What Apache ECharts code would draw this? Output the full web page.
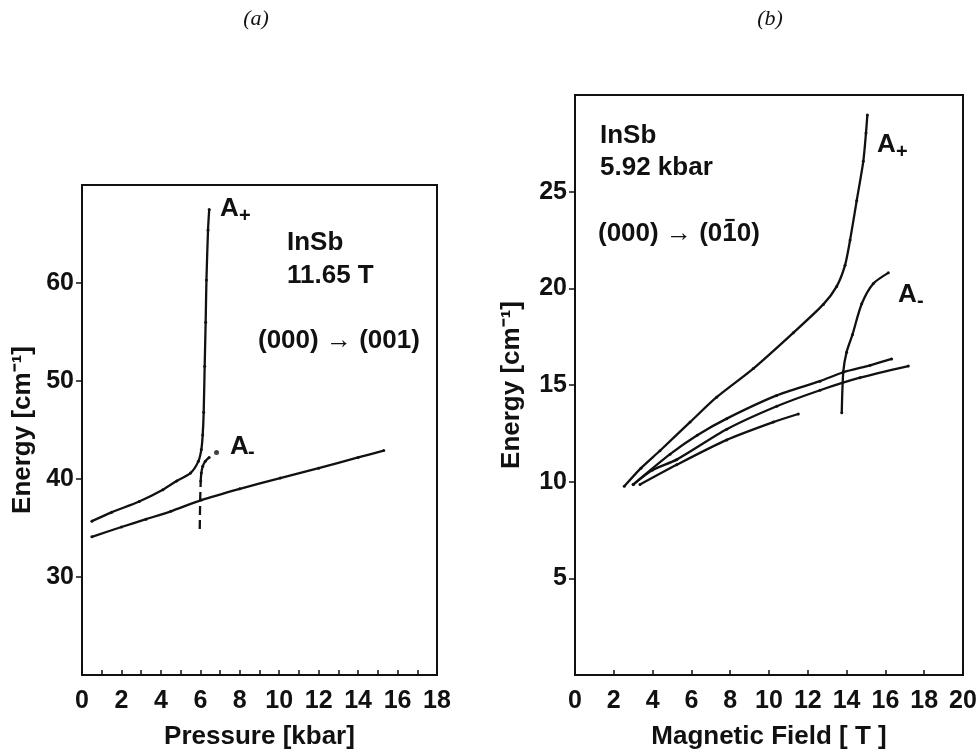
<!DOCTYPE html>
<html><head><meta charset="utf-8">
<script src="https://cdn.jsdelivr.net/npm/echarts@6/dist/echarts.min.js"></script>
<style>html,body{margin:0;padding:0;background:#fff}#c{width:980px;height:752px}</style>
</head><body><div id="c"></div>
<script>
// ---------- tick values ----------
const pressureTicks  = [0,1,2,3,4,5,6,7,8,9,10,11,12,13,14,15,16,17,18];
const pressureLabels = [0,2,4,6,8,10,12,14,16,18];
const energyTicksA   = [30,40,50,60];
const fieldTicks     = [0,2,4,6,8,10,12,14,16,18,20];
const fieldLabels    = [0,2,4,6,8,10,12,14,16,18,20];
const energyTicksB   = [5,10,15,20,25];

// ---------- panel (a): energy vs pressure at 11.65 T ----------
const aPlusA   = [[0.5,35.7],[1.5,36.6],[2.9,37.7],[4.1,38.9],[4.8,39.8],[5.5,40.6],[5.9,41.8],[6.05,43.0],[6.12,44.5],[6.17,46.8],[6.22,51.5],[6.27,56.0],[6.31,60.3],[6.39,65.4],[6.45,67.5]];
const lowerA   = [[0.5,34.1],[2.0,35.1],[3.25,35.9],[4.5,36.7],[6.05,37.85],[8.0,39.0],[10.05,40.1],[12.0,41.1],[14.0,42.2],[15.3,42.9]];
const aMinusDashA = [[5.97,34.9],[5.99,37.8],[6.02,39.8]];
const aMinusA  = [[6.02,39.8],[6.05,40.6],[6.12,41.3],[6.25,41.8],[6.45,42.2]];
const aMinusDotA = [[6.82,42.7]];

// ---------- panel (b): energy vs magnetic field at 5.92 kbar ----------
const aPlusB  = [[2.54,9.76],[3.4,10.7],[4.38,11.6],[5.93,13.08],[7.30,14.37],[9.19,15.85],[11.25,17.7],[12.80,19.17],[13.49,20.1],[13.92,21.2],[14.18,22.5],[14.52,24.53],[14.86,26.57],[15.0,28.04],[15.07,28.97]];
const mid1B   = [[3.0,9.85],[4.9,11.42],[6.3,12.4],[7.82,13.26],[10.4,14.46],[12.63,15.2],[13.83,15.66],[15.21,16.02],[16.32,16.35]];
const mid2B   = [[3.0,9.85],[4.0,10.6],[5.24,11.14],[7.82,12.71],[10.4,13.9],[12.63,14.73],[14.69,15.38],[17.18,15.98]];
const shortB  = [[3.35,9.85],[5.24,10.87],[7.82,12.16],[10.22,13.08],[11.51,13.5]];
const aMinusB = [[13.75,13.56],[13.83,15.7],[14.0,16.7],[14.3,17.6],[14.78,19.2],[15.38,20.25],[16.15,20.8]];

const F = '"Liberation Sans", Arial, Helvetica, sans-serif';
const INK = '#111';
const chart = echarts.init(document.getElementById('c'), null, {renderer:'canvas'});

function xAxis(grid, min, max, name, ticks, labels){
  return {gridIndex:grid, type:'value', min, max, name, nameLocation:'middle', nameGap:49,
    nameTextStyle:{fontFamily:F, fontWeight:'bold', fontSize:26, color:INK},
    axisLine:{show:false, onZero:false}, splitLine:{show:false},
    axisTick:{show:true, inside:true, length:5, lineStyle:{color:INK, width:1.5}, customValues:ticks},
    axisLabel:{customValues:labels, margin:14, fontFamily:F, fontWeight:'bold', fontSize:25, color:INK}};
}
function yAxis(grid, min, max, ticks, gap){
  return {gridIndex:grid, type:'value', min, max, name:'Energy [cm\u207B\u00B9]', nameLocation:'middle', nameGap:gap,
    nameTextStyle:{fontFamily:F, fontWeight:'bold', fontSize:26, color:INK},
    axisLine:{show:false, onZero:false}, splitLine:{show:false},
    axisTick:{show:true, inside:false, length:6, lineStyle:{color:INK, width:1.5}, customValues:ticks},
    axisLabel:{customValues:ticks, margin:8, fontFamily:F, fontWeight:'bold', fontSize:25, color:INK}};
}
function line(xi, data, extra){
  return Object.assign({type:'line', xAxisIndex:xi, yAxisIndex:xi, data, smooth:0.25,
    showSymbol:true, symbol:'circle', symbolSize:3, animation:false, silent:true,
    lineStyle:{color:INK, width:2.3}, itemStyle:{color:INK}}, extra||{});
}
function txt(x, y, s, size, extra){
  return Object.assign({type:'text', x, y, silent:true, style:{text:s, fontFamily:F, fontWeight:'bold', fontSize:size||26, fill:INK, align:'left', verticalAlign:'middle'}}, extra||{});
}

// measure where the "1" of (0 1 0) sits, for its overbar
const ctx = document.createElement('canvas').getContext('2d');
ctx.font = 'bold 26px ' + F;
const hklPrefix = '(000) \u2192 (0';
const wPre = ctx.measureText(hklPrefix).width;
const wOne = ctx.measureText('1').width;
const hklX = 598, hklY = 234;

chart.setOption({
  backgroundColor:'#fff',
  animation:false,
  grid:[
    {left:82, top:185, width:355, height:490, show:true, borderColor:INK, borderWidth:2, outerBoundsMode:'none'},
    {left:575, top:95, width:388, height:580, show:true, borderColor:INK, borderWidth:2, outerBoundsMode:'none'}
  ],
  xAxis:[ xAxis(0,0,18,'Pressure [kbar]',pressureTicks,pressureLabels),
          xAxis(1,0,20,'Magnetic Field [ T ]',fieldTicks,fieldLabels) ],
  yAxis:[ yAxis(0,20,70,energyTicksA,46), yAxis(1,0,30,energyTicksB,50) ],
  series:[
    line(0, aPlusA),
    line(0, lowerA),
    line(0, aMinusDashA, {lineStyle:{color:INK, width:2.3, type:[9,5]}, showSymbol:false, smooth:false}),
    line(0, aMinusA),
    {type:'scatter', xAxisIndex:0, yAxisIndex:0, data:aMinusDotA, symbolSize:5, itemStyle:{color:INK}, silent:true, animation:false},
    line(1, aPlusB),
    line(1, mid1B),
    line(1, mid2B),
    line(1, shortB),
    line(1, aMinusB)
  ],
  graphic:[
    {type:'text', x:256, y:19, style:{text:'(a)', fontFamily:'"Liberation Serif", "Times New Roman", serif', fontStyle:'italic', fontSize:22, fill:INK, align:'center', verticalAlign:'middle'}},
    {type:'text', x:770, y:19, style:{text:'(b)', fontFamily:'"Liberation Serif", "Times New Roman", serif', fontStyle:'italic', fontSize:22, fill:INK, align:'center', verticalAlign:'middle'}},
    txt(220, 209, 'A'), txt(239, 216, '+', 20),
    txt(287, 243, 'InSb'),
    txt(287, 276, '11.65 T'),
    txt(258, 341, '(000) \u2192 (001)'),
    txt(230, 447, 'A'), txt(248, 452, '-', 20),
    txt(600, 136, 'InSb'),
    txt(600, 168, '5.92 kbar'),
    txt(hklX, hklY, '(000) \u2192 (010)'),
    {type:'line', silent:true, shape:{x1:hklX+wPre+3, y1:hklY-14, x2:hklX+wPre+wOne-2, y2:hklY-14}, style:{stroke:INK, lineWidth:2.2}},
    txt(877, 145, 'A'), txt(896, 152, '+', 20),
    txt(898, 295, 'A'), txt(917, 301, '-', 20)
  ]
});
</script></body></html>
